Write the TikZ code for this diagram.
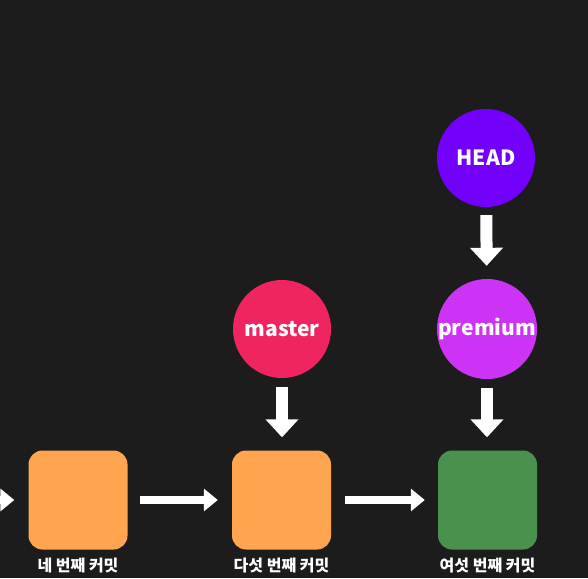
\documentclass[tikz,border=0pt]{standalone}
\usepackage{fontspec}
\setmainfont{Noto Sans CJK KR}
\usepackage{tikz}
\usetikzlibrary{arrows.meta,positioning,calc}

\definecolor{bgdark}{HTML}{1C1C1C}
\definecolor{commitorange}{HTML}{FFA54F}
\definecolor{commitgreen}{HTML}{4A914D}
\definecolor{masterpink}{HTML}{F0245E}
\definecolor{headviolet}{HTML}{7300FA}
\definecolor{premiumpurple}{HTML}{CC33F5}

\begin{document}
\begin{tikzpicture}[
    x=1pt, y=-1pt,
    commit/.style={rectangle, rounded corners=14pt, minimum size=99pt,
                inner sep=0pt},
    branch/.style={circle, minimum size=98pt, inner sep=0pt,
                text=white, font=\fontsize{21}{24}\selectfont\bfseries},
    caption/.style={text=white, font=\fontsize{16}{18}\selectfont\bfseries,
                inner sep=0pt},
    harr/.style={-{Triangle[width=22pt,length=14pt]}, line width=8pt, white},
    varr/.style={-{Triangle[width=32pt,length=18pt]}, line width=12pt, white},
]

% --- Background ---
\fill[bgdark] (0,0) rectangle (588,578);
\useasboundingbox (0,0) rectangle (588,578);
\clip (0,0) rectangle (588,578);

% --- Commits ---
\coordinate (c3) at (-60,500);
\node[commit, fill=commitorange] (c4) at (78,500) {};
\node[commit, fill=commitorange] (c5) at (281.5,500) {};
\node[commit, fill=commitgreen] (c6) at (487.5,500) {};
\node[caption, anchor=north] (lab4) at ($(c4.south)+(0,8)$) {네 번째 커밋};
\node[caption, anchor=north] (lab5) at ($(c5.south)+(0,8)$) {다섯 번째 커밋};
\node[caption, anchor=north] (lab6) at ($(c6.south)+(0,8)$) {여섯 번째 커밋};

\draw[harr, shorten >=14pt] (c3) -- (c4);
\draw[harr, shorten <=12pt, shorten >=14pt] (c4) -- (c5);
\draw[harr, shorten <=14pt, shorten >=13pt] (c5) -- (c6);

% --- Branches ---
\node[branch, fill=masterpink] (master) at (282,329) {master};
\node[branch, fill=premiumpurple] (premium) at (487,329) {premium};
\node[branch, fill=headviolet] (head) at (486,158) {HEAD};

\draw[varr, shorten <=9pt, shorten >=13pt] (master) -- (master |- c5.north);
\draw[varr, shorten <=9pt, shorten >=13pt] (premium) -- (premium |- c6.north);
\draw[varr, shorten <=8pt, shorten >=13pt] (head) -- (premium);

\end{tikzpicture}
\end{document}
